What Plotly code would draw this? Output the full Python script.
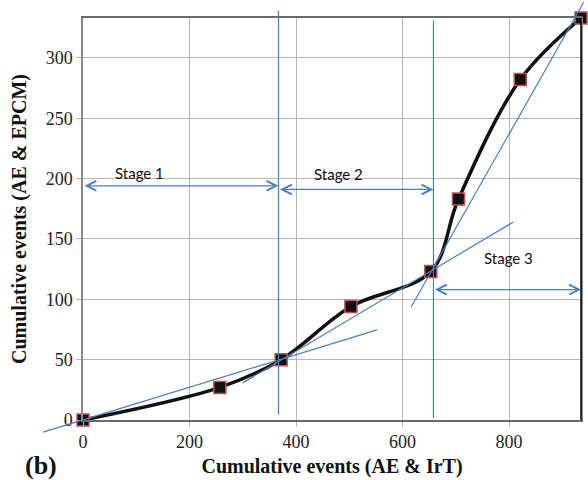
import plotly.graph_objects as go

# ---- data ----
x_events = [0, 257, 372, 503, 653, 705, 821, 935]
y_events = [0, 27, 50, 94, 123, 183, 282, 333]

x_ticks = [0, 200, 400, 600, 800]
y_ticks = [0, 50, 100, 150, 200, 250, 300]

# guide lines: (x_inside, y_inside, x_other, y_other)
tangent_lines = [
    (555, 75, -75, -10),
    (297, 30, 808, 164),
    (614, 92, 940, 346),
]
stage_boundaries = [
    (367, 3, 367, 339),
    (658, 0, 658, 331),
]
stage_arrows = [  # (x_start, x_end, y)
    (0, 367, 194),
    (367, 658, 191),
    (658, 935, 108),
]
stage_labels = ["Stage 1", "Stage 2", "Stage 3"]
stage_label_pos = [(107, 205), (480, 204), (798, 134)]

BLUE = "#4a7ebb"
SERIF = "Liberation Serif, Times New Roman, serif"
SANS = "Lato"

fig = go.Figure()
fig.add_trace(go.Scatter(
    x=x_events, y=y_events,
    mode="lines+markers",
    line=dict(color="#111111", width=3.5, shape="spline", smoothing=1.0),
    marker=dict(symbol="square", size=12, color="#111111",
                line=dict(color="#c0504d", width=1.5)),
    cliponaxis=False,
    showlegend=False,
))

annotations = []
for (x0, y0, x1, y1) in tangent_lines + stage_boundaries:
    annotations.append(dict(
        x=x1, y=y1, ax=x0, ay=y0, xref="x", yref="y", axref="x", ayref="y",
        text=" ", font=dict(size=1), showarrow=True, arrowhead=0,
        arrowwidth=1.2, arrowcolor=BLUE, standoff=0, startstandoff=0,
    ))
for (xs, xe, yy) in stage_arrows:
    annotations.append(dict(
        x=xe, y=yy, ax=xs, ay=yy, xref="x", yref="y", axref="x", ayref="y",
        text=" ", font=dict(size=1), showarrow=True,
        arrowhead=5, startarrowhead=5, arrowside="end+start",
        arrowsize=1.6, startarrowsize=1.6,
        arrowwidth=1.2, arrowcolor=BLUE, standoff=0, startstandoff=0,
    ))
for lab, (lx, ly) in zip(stage_labels, stage_label_pos):
    annotations.append(dict(
        x=lx, y=ly, xref="x", yref="y", text=lab, showarrow=False,
        font=dict(family=SANS, size=15, color="#111111"),
    ))
annotations.append(dict(
    x=-0.12, y=-0.112, xref="paper", yref="paper", text="<b>(b)</b>", showarrow=False,
    font=dict(family=SERIF, size=26, color="#111111"), xanchor="left", yanchor="middle",
))

axis_common = dict(
    showgrid=True, gridcolor="#b5b5b5", gridwidth=1.3,
    showline=True, mirror=True, linewidth=1.5,
    ticks="outside", ticklen=5, tickcolor="#b5b5b5", tickwidth=1.3,
    zeroline=False,
    tickfont=dict(family=SERIF, size=18, color="#222222"),
)

fig.update_layout(
    width=588, height=480,
    margin=dict(l=83, r=5, t=18, b=60),
    paper_bgcolor="white", plot_bgcolor="white",
    xaxis=dict(range=[0, 935], tickvals=x_ticks, linecolor="#6a6a6a",
               title=dict(text="<b>Cumulative events (AE & IrT)</b>",
                          font=dict(family=SERIF, size=20, color="#111111"), standoff=8),
               **axis_common),
    yaxis=dict(range=[0, 333], tickvals=y_ticks, linecolor="#8a8a8a",
               title=dict(text="<b>Cumulative events (AE & EPCM)</b>",
                          font=dict(family=SERIF, size=20, color="#111111"), standoff=14),
               **axis_common),
    annotations=annotations,
    shapes=[dict(type="line", xref="paper", yref="paper", x0=1, x1=1, y0=0, y1=1,
                 line=dict(color="#000000", width=1.5))],
)

fig.write_html("out.html")
